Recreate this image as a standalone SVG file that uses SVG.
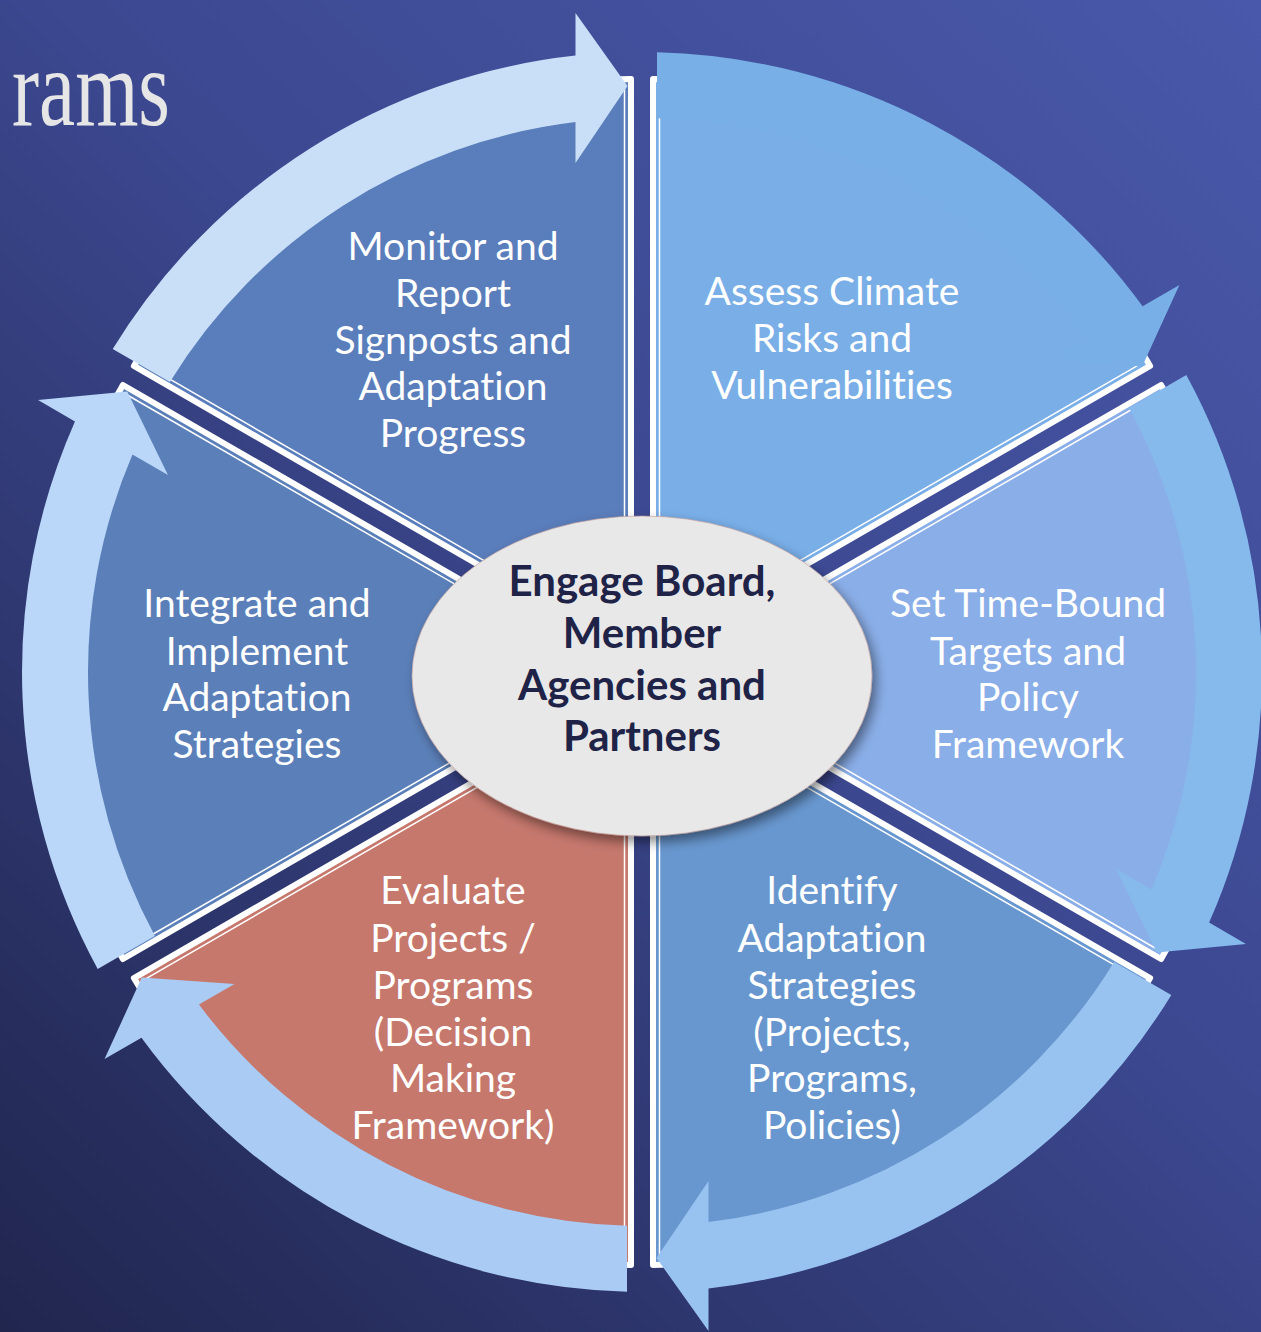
<svg xmlns="http://www.w3.org/2000/svg" width="1261" height="1332" viewBox="0 0 1261 1332">
<defs>
<linearGradient id="bg" gradientUnits="userSpaceOnUse" x1="1261" y1="0" x2="0" y2="1332">
<stop offset="0" stop-color="#4958AA"/>
<stop offset="0.45" stop-color="#3C4890"/>
<stop offset="1" stop-color="#20264E"/>
</linearGradient>
<filter id="sh" x="-20%" y="-20%" width="140%" height="150%">
<feDropShadow dx="4" dy="6" stdDeviation="6" flood-color="#000" flood-opacity="0.45"/>
</filter>
<style>
.w{stroke:#fff;stroke-width:6;stroke-linejoin:round}
.t{fill:none;stroke:#fff;stroke-width:1.5}
.lbl{font-family:Lato,"Liberation Sans",sans-serif;font-size:39px;fill:#fff;text-anchor:middle;font-variant-ligatures:none;font-feature-settings:"liga" 0}
.ctr{font-family:Lato,"Liberation Sans",sans-serif;font-size:42px;font-weight:bold;fill:#1F2347;text-anchor:middle;font-variant-ligatures:none;font-feature-settings:"liga" 0}
</style>
</defs>
<rect width="1261" height="1332" fill="url(#bg)"/>
<text x="12" y="125" font-family="'Liberation Serif',serif" font-size="110" fill="#E6E6E6" textLength="158" lengthAdjust="spacingAndGlyphs">rams</text>

<g id="node-assess">
<path class="w" fill="#79AEE7" d="M653,652.95 L653,78.95 A574,574 0 0 1 1150.1,365.95 Z"/>
<polyline class="t" points="659.5,83.69 659.5,641.69 1142.7,362.69"/>
<text class="lbl"><tspan x="832" y="305">Assess Climate</tspan><tspan x="832" y="352">Risks and</tspan><tspan x="832" y="399">Vulnerabilities</tspan></text>
</g>
<g id="node-set">
<path class="w" fill="#8AAEE8" d="M664,672 L1161.1,385 A574,574 0 0 1 1161.1,959 Z"/>
<polyline class="t" points="1160.2,393 677,672 1160.2,951"/>
<text class="lbl"><tspan x="1028" y="617">Set Time-Bound</tspan><tspan x="1028" y="665">Targets and</tspan><tspan x="1028" y="711">Policy</tspan><tspan x="1028" y="758">Framework</tspan></text>
</g>
<g id="node-identify">
<path class="w" fill="#6897CF" d="M653,691.05 L1150.1,978.05 A574,574 0 0 1 653,1265.05 Z"/>
<polyline class="t" points="1142.7,981.31 659.5,702.31 659.5,1260.31"/>
<text class="lbl"><tspan x="832" y="904">Identify</tspan><tspan x="832" y="952">Adaptation</tspan><tspan x="832" y="999">Strategies</tspan><tspan x="832" y="1046">(Projects,</tspan><tspan x="832" y="1092">Programs,</tspan><tspan x="832" y="1139">Policies)</tspan></text>
</g>
<g id="node-evaluate">
<path class="w" fill="#C6786D" d="M631,691.05 L631,1265.05 A574,574 0 0 1 133.9,978.05 Z"/>
<polyline class="t" points="624.5,1260.31 624.5,702.31 141.3,981.31"/>
<text class="lbl"><tspan x="453" y="904">Evaluate</tspan><tspan x="453" y="952">Projects /</tspan><tspan x="453" y="999">Programs</tspan><tspan x="453" y="1046">(Decision</tspan><tspan x="453" y="1092">Making</tspan><tspan x="453" y="1139">Framework)</tspan></text>
</g>
<g id="node-integrate">
<path class="w" fill="#5B80B9" d="M620,672 L122.9,959 A574,574 0 0 1 122.9,385 Z"/>
<polyline class="t" points="123.8,951 607,672 123.8,393"/>
<text class="lbl"><tspan x="257" y="617">Integrate and</tspan><tspan x="257" y="665">Implement</tspan><tspan x="257" y="711">Adaptation</tspan><tspan x="257" y="758">Strategies</tspan></text>
</g>
<g id="node-monitor">
<path class="w" fill="#5A7DBB" d="M631,652.95 L133.9,365.95 A574,574 0 0 1 631,78.95 Z"/>
<polyline class="t" points="141.3,362.69 624.5,641.69 624.5,83.69"/>
<text class="lbl"><tspan x="453" y="260">Monitor and</tspan><tspan x="453" y="307">Report</tspan><tspan x="453" y="354">Signposts and</tspan><tspan x="453" y="400">Adaptation</tspan><tspan x="453" y="447">Progress</tspan></text>
</g>

<g id="connectors">
<path id="arrow-monitor" fill="#C9DFF7" d="M112.7,349.1 A620,620 0 0 1 575.5,55.6 L575.5,13 L627.5,86 L575.5,163 L575.5,122 A554,554 0 0 0 169.9,382.1 Z"/>
<path id="arrow-assess" fill="#77AFE6" d="M657,52.2 A620,620 0 0 1 1142.6,306.2 L1179.4,284.9 L1142.2,366.4 L1049.5,359.9 L1085.1,339.4 A554,554 0 0 0 657,118.2 Z"/>
<path id="arrow-set" fill="#86B9EC" d="M1186.3,375.1 A620,620 0 0 1 1209.1,922.6 L1245.9,943.9 L1156.75,952.4 L1116.1,868.9 L1151.6,889.4 A554,554 0 0 0 1129.1,408.1 Z"/>
<path id="arrow-identify" fill="#98C3F0" d="M1171.3,994.9 A620,620 0 0 1 708.5,1288.4 L708.5,1331 L656.5,1258 L708.5,1181 L708.5,1222 A554,554 0 0 0 1114.1,961.9 Z"/>
<path id="arrow-evaluate" fill="#AACCF4" d="M627,1291.8 A620,620 0 0 1 141.45,1037.8 L104.55,1059.1 L141.75,977.56 L234.45,984.1 L198.95,1004.6 A554,554 0 0 0 627,1225.8 Z"/>
<path id="arrow-integrate" fill="#BAD7F9" d="M97.7,968.9 A620,620 0 0 1 74.95,421.4 L38.05,400.1 L127.25,391.56 L167.95,475.1 L132.45,454.6 A554,554 0 0 0 154.9,935.9 Z"/>
</g>

<g id="node-center">
<ellipse cx="642" cy="676" rx="230" ry="160" fill="#E8E8E8" stroke="#C29A94" stroke-width="1" stroke-opacity="0.6" filter="url(#sh)"/>
<text class="ctr"><tspan x="642" y="596">Engage Board,</tspan><tspan x="642" y="648">Member</tspan><tspan x="642" y="700">Agencies and</tspan><tspan x="642" y="751">Partners</tspan></text>
</g>
</svg>
